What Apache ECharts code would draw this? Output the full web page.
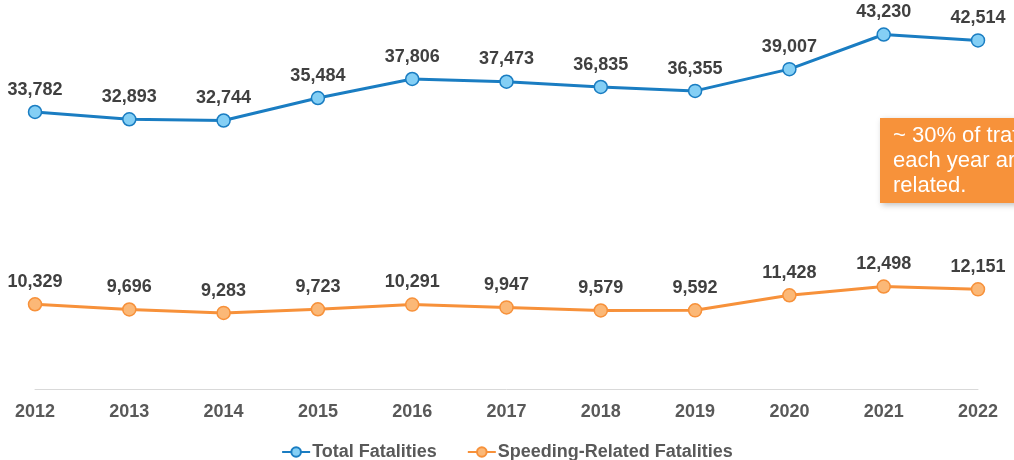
<!DOCTYPE html>
<html>
<head>
<meta charset="utf-8">
<script src="https://cdn.jsdelivr.net/npm/echarts@6/dist/echarts.min.js"></script>
<style>
  html, body { margin: 0; padding: 0; background: #fff; }
  #chart { width: 1014px; height: 460px; }
</style>
</head>
<body>
<div id="chart"></div>
<script>
const years = ['2012', '2013', '2014', '2015', '2016', '2017', '2018', '2019', '2020', '2021', '2022']
const totalFatalities = [33782, 32893, 32744, 35484, 37806, 37473, 36835, 36355, 39007, 43230, 42514]
const speedingFatalities = [10329, 9696, 9283, 9723, 10291, 9947, 9579, 9592, 11428, 12498, 12151]
const calloutText = '~ 30% of traffic fatalities\neach year are speeding-\nrelated.'

const chart = echarts.init(document.getElementById('chart'))

const blue = '#1a7dc2'
const blueFill = '#84cff5'
const orange = '#f7913a'
const orangeFill = '#fbb877'
const font = 'Liberation Sans, Arial, sans-serif'

const labelStyle = {
  show: true,
  position: 'top',
  distance: 6,
  color: '#404040',
  fontSize: 18,
  fontWeight: 'bold',
  fontFamily: font,
  formatter: p => p.value.toLocaleString('en-US')
}

const option = {
  animation: false,
  grid: { left: 35, right: 36, top: 20, bottom: 71 },
  legend: {
    bottom: -6,
    left: 'center',
    itemWidth: 28,
    itemHeight: 12,
    itemGap: 30,
    textStyle: {
      color: '#595959',
      fontSize: 18,
      fontWeight: 'bold',
      fontFamily: font,
      padding: [0, 0, 0, -3]
    },
    data: ['Total Fatalities', 'Speeding-Related Fatalities']
  },
  xAxis: {
    type: 'category',
    data: years,
    boundaryGap: false,
    axisLine: { lineStyle: { color: '#d9d9d9', width: 1 } },
    axisTick: { show: false },
    axisLabel: {
      color: '#595959',
      fontSize: 18,
      fontWeight: 'bold',
      fontFamily: font,
      margin: 14
    }
  },
  yAxis: {
    type: 'value',
    min: 0,
    max: 45000,
    show: false
  },
  series: [
    {
      name: 'Total Fatalities',
      type: 'line',
      data: totalFatalities,
      symbol: 'circle',
      symbolSize: 13,
      lineStyle: { color: blue, width: 3 },
      itemStyle: { color: blueFill, borderColor: blue, borderWidth: 1.5 },
      label: labelStyle
    },
    {
      name: 'Speeding-Related Fatalities',
      type: 'line',
      data: speedingFatalities,
      symbol: 'circle',
      symbolSize: 13,
      lineStyle: { color: orange, width: 3 },
      itemStyle: { color: orangeFill, borderColor: orange, borderWidth: 1.5 },
      label: labelStyle
    }
  ],
  graphic: [
    {
      type: 'rect',
      left: 880,
      top: 118,
      shape: { width: 300, height: 85 },
      style: {
        fill: '#f7923a',
        shadowBlur: 6,
        shadowOffsetX: 2,
        shadowOffsetY: 2,
        shadowColor: 'rgba(0,0,0,0.25)'
      },
      z: 10
    },
    {
      type: 'text',
      left: 893,
      top: 123,
      style: {
        text: calloutText,
        fill: '#fff',
        fontSize: 22,
        lineHeight: 25,
        fontFamily: font
      },
      z: 11
    }
  ]
}

chart.setOption(option)
</script>
</body>
</html>
